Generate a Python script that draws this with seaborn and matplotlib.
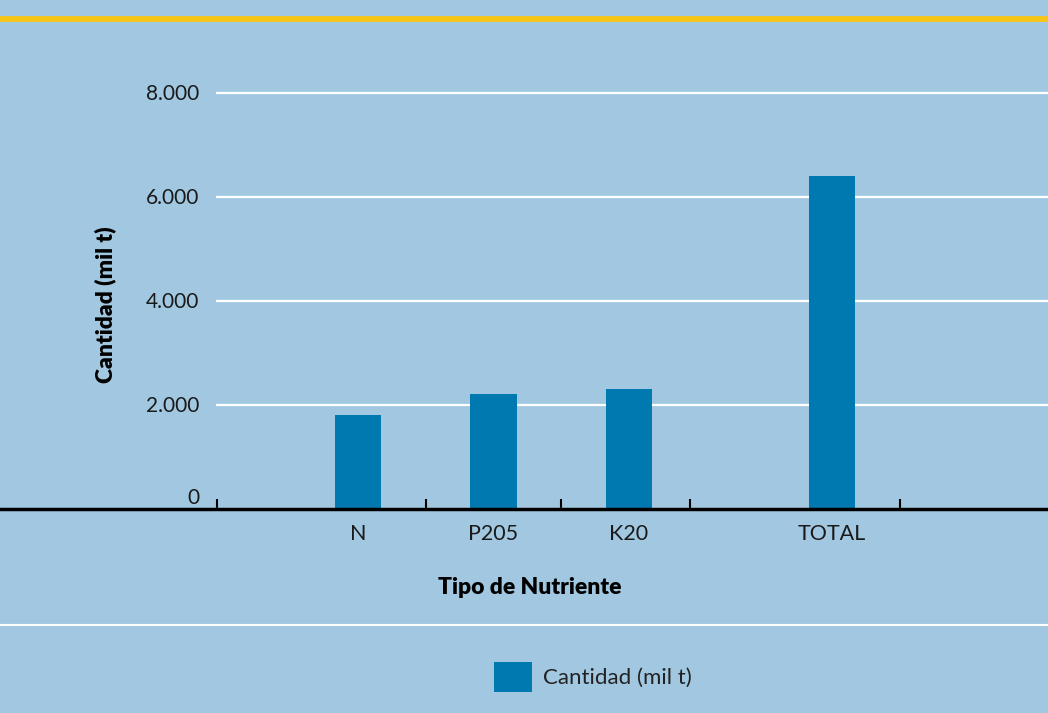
import numpy as np
import pandas as pd
import matplotlib
matplotlib.use("Agg")
import matplotlib.pyplot as plt
from matplotlib.lines import Line2D
import seaborn as sns

# Fertilizer nutrient quantities (thousand tonnes)
categories = ["N", "P205", "K20", "TOTAL"]
values = [1800, 2200, 2300, 6400]
y_ticks = [0, 2000, 4000, 6000, 8000]
y_tick_labels = ["0", "2.000", "4.000", "6.000", "8.000"]
series_name = "Cantidad (mil t)"

BG = "#a2c8e1"
BAR = "#0079b0"
YELLOW = "#f6c516"

sns.set_theme(style="white")
plt.rcParams["font.family"] = ["Lato", "DejaVu Sans"]

# slots along the x axis: the three nutrients side by side, the total set apart
slot = np.r_[np.arange(len(categories) - 1), len(categories) - 0.5]
df = pd.DataFrame({"slot": slot, "nutriente": categories, "cantidad": values})

W, H = 1048, 713
fig = plt.figure(figsize=(W / 100, H / 100), dpi=100, facecolor=BG)

px_unit = 135.5          # pixels per slot
x0_px = 358.0            # pixel column of the first slot
ax_left_px, ax_right_px = 216.0, 1048.0
y0_px, px_per_k = 508.5, 0.052   # baseline row, pixels per unit
ymax = 8400
ax_top_px = y0_px - ymax * px_per_k

ax = fig.add_axes([ax_left_px / W, (H - y0_px) / H,
                   (ax_right_px - ax_left_px) / W, (y0_px - ax_top_px) / H])
ax.set_facecolor(BG)

sns.barplot(data=df, x="slot", y="cantidad", native_scale=True, width=0.34,
            color=BAR, saturation=1, linewidth=0, label=series_name, ax=ax)

ax.set_xlim((ax_left_px - x0_px) / px_unit, (ax_right_px - x0_px) / px_unit)
ax.set_ylim(0, ymax)

for s in ax.spines.values():
    s.set_visible(False)

# horizontal white grid
ax.set_axisbelow(True)
ax.yaxis.grid(True, color="white", linewidth=1.6)
ax.xaxis.grid(False)
ax.set_yticks(y_ticks)
ax.set_yticklabels(y_tick_labels, fontsize=15, color="#1a1a1a")
ax.tick_params(axis="y", length=0, pad=12)
ax.get_yticklabels()[0].set_va("bottom")

# boundary tick marks pointing up, category labels under the bars
ax.set_xticks([-1.04, 0.5, 1.5, 2.45, 4.0])
ax.set_xticklabels([])
ax.tick_params(axis="x", which="major", direction="in", length=7.2, width=1.5,
               color="black", bottom=True)
ax.set_xticks(slot, minor=True)
ax.set_xticklabels(categories, minor=True, fontsize=15.5, color="#1a1a1a")
ax.tick_params(axis="x", which="minor", length=0, pad=11)
ax.set_xlabel("")
ax.set_ylabel("")

# baseline running across the full width
fig.add_artist(Line2D([0, 1], [(H - y0_px) / H] * 2, transform=fig.transFigure,
                      color="black", linewidth=2.5, zorder=5))
# yellow rule at the top and white separator above the legend
fig.add_artist(Line2D([0, 1], [(H - 19) / H] * 2, transform=fig.transFigure,
                      color=YELLOW, linewidth=4.2))
fig.add_artist(Line2D([0, 1], [(H - 625) / H] * 2, transform=fig.transFigure,
                      color="white", linewidth=1.5))

fig.text(530 / W, (H - 587) / H, "Tipo de Nutriente", ha="center", va="center",
         fontsize=16.5, fontweight="heavy", color="black")
fig.text(105 / W, (H - 305) / H, "Cantidad (mil t)", ha="center", va="center",
         rotation=90, fontsize=16.5, fontweight="heavy", color="black")

fs = 16
ax.legend(loc="center", bbox_to_anchor=(592.5 / W, (H - 677) / H),
          bbox_transform=fig.transFigure, frameon=False, fontsize=fs,
          handlelength=38 / (fs * 100 / 72), handleheight=38 / (fs * 100 / 72),
          handletextpad=0.5, labelcolor="#222222")

fig.savefig("out.png", dpi=100, facecolor=BG)
